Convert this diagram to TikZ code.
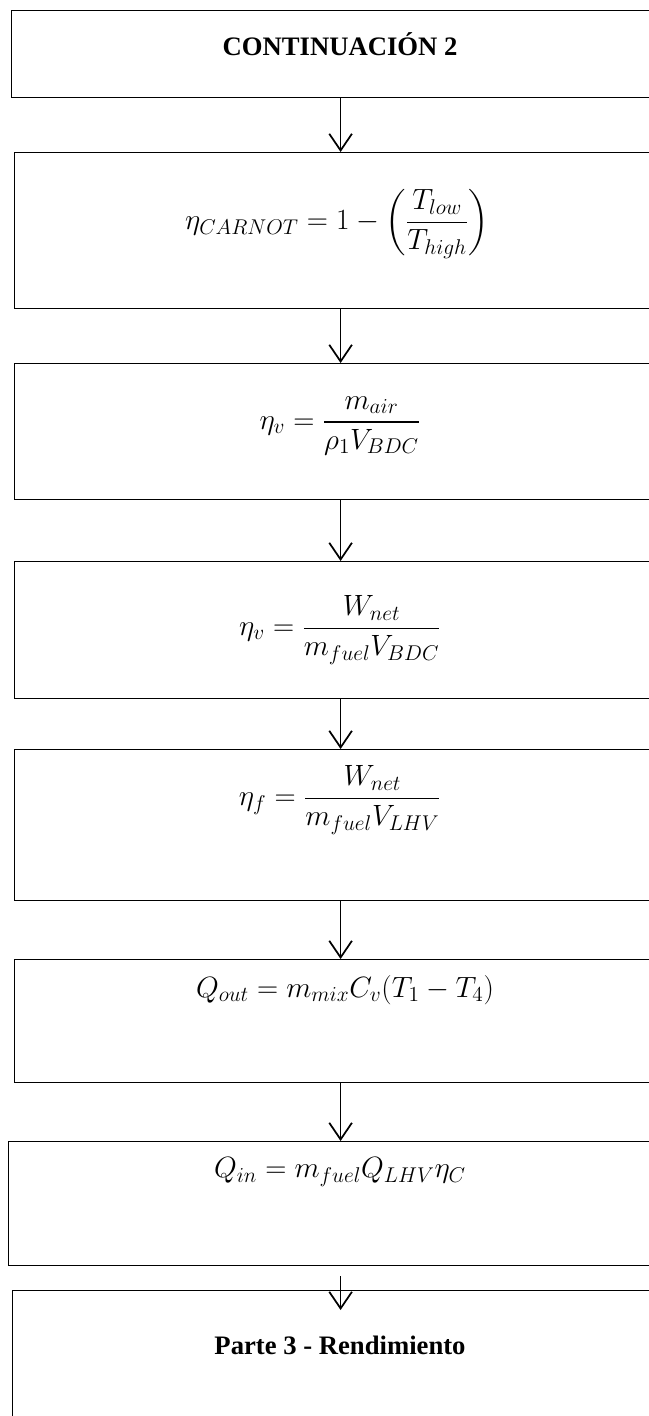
\RequirePackage{fix-cm}
\documentclass[tikz,border=0pt]{standalone}
\usepackage{amsmath}
\usepackage{fontspec}
\setmainfont{Liberation Serif}
\usepackage{tikz}
\usetikzlibrary{arrows.meta}
\DeclareMathSizes{22}{22}{16}{12}

\begin{document}
\begin{tikzpicture}[
    x=0.75pt, y=-0.75pt,
    caja/.style={draw, line width=0.9pt, anchor=north west, inner sep=0pt, minimum width=489pt},
    titulo/.style={font=\fontsize{20}{24}\selectfont\bfseries},
    formula/.style={font=\fontsize{22}{26}\selectfont},
    flecha/.style={-{Straight Barb[length=12.5pt, width=17pt]}, line width=1.3pt}
]
    \useasboundingbox (0,0) rectangle (649,1416);
    \clip (0,0) rectangle (649,1416);

    % --- cajas ---
    \node[caja, minimum width=493.5pt, minimum height=65.25pt] (b1) at (11,10) {};
    \node[caja, minimum height=117pt] (b2) at (14,152) {};
    \node[caja, minimum height=102pt] (b3) at (14,363) {};
    \node[caja, minimum height=102.75pt] (b4) at (14,561) {};
    \node[caja, minimum height=113.25pt] (b5) at (14,749) {};
    \node[caja, minimum height=92.25pt] (b6) at (14,959) {};
    \node[caja, minimum width=498pt, minimum height=93pt] (b7) at (8,1141) {};
    \node[caja, minimum width=492pt, minimum height=127.5pt] (b8) at (12,1290) {};

    % --- textos ---
    \node[titulo] (t1) at (340,44) {CONTINUACIÓN 2};
    \node[formula] (t2) at (337,224)
        {$\displaystyle \eta_{CARNOT} = 1 - \left(\frac{T_{low}}{T_{high}}\right)$};
    \node[formula] (t3) at (340,426)
        {$\displaystyle \eta_{v} = \frac{m_{air}}{\rho_{1} V_{BDC}}$};
    \node[formula] (t4) at (340,630)
        {$\displaystyle \eta_{v} = \frac{W_{net}}{m_{fuel} V_{BDC}}$};
    \node[formula] (t5) at (340,800)
        {$\displaystyle \eta_{f} = \frac{W_{net}}{m_{fuel} V_{LHV}}$};
    \node[formula] (t6) at (345,990)
        {$Q_{out} = m_{mix} C_{v} (T_{1} - T_{4})$};
    \node[formula] (t7) at (340,1172)
        {$Q_{in} = m_{fuel} Q_{LHV} \eta_{C}$};
    \node[titulo] (t8) at (340,1345) {Parte 3 - Rendimiento};

    % --- flechas ---
    \draw[flecha] (b1.south) -- (b2.north);
    \draw[flecha] (b2.south) -- (b3.north);
    \draw[flecha] (b3.south) -- (b4.north);
    \draw[flecha] (b4.south) -- (b5.north);
    \draw[flecha] (b5.south) -- (b6.north);
    \draw[flecha] (b6.south) -- (b7.north);
    \draw[flecha, shorten <=7.5pt, shorten >=-15pt] (b7.south) -- (b8.north);
\end{tikzpicture}
\end{document}
